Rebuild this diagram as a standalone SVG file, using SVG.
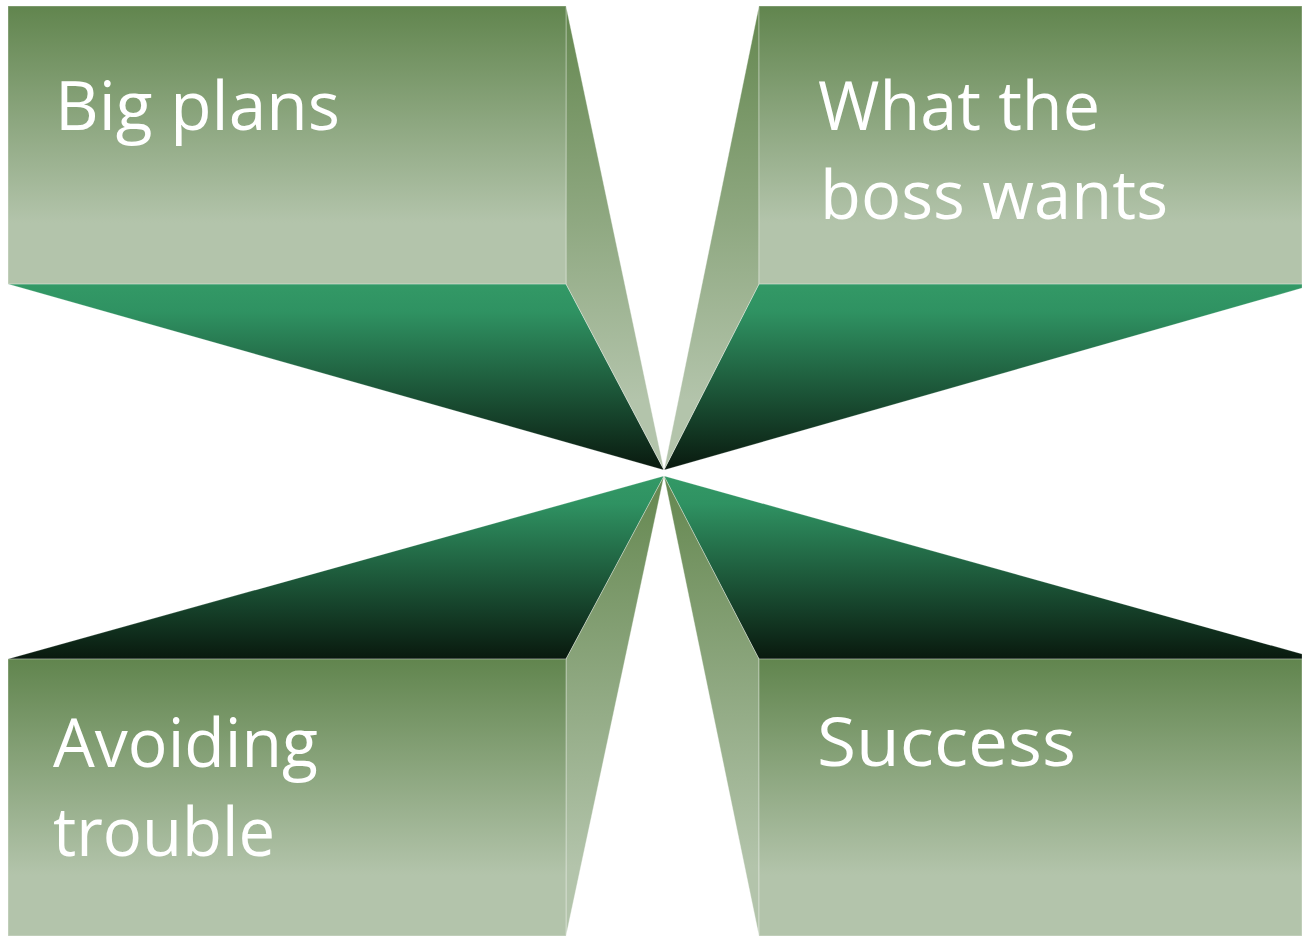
<svg xmlns="http://www.w3.org/2000/svg" width="1302" height="936" viewBox="0 0 1302 936">
<defs>
<linearGradient id="front" x1="0" y1="0" x2="0" y2="1">
<stop offset="0" stop-color="#61854e"/>
<stop offset="0.78" stop-color="#b3c4ab"/>
<stop offset="1" stop-color="#b3c4ab"/>
</linearGradient>
<linearGradient id="side" x1="0" y1="0" x2="0" y2="1">
<stop offset="0" stop-color="#64874f"/>
<stop offset="0.85" stop-color="#b3c4ab"/>
<stop offset="1" stop-color="#b3c4ab"/>
</linearGradient>
<linearGradient id="deep" x1="0" y1="0" x2="0" y2="1">
<stop offset="0" stop-color="#339966"/>
<stop offset="0.15" stop-color="#2f9262"/>
<stop offset="1" stop-color="#09190e"/>
</linearGradient>
<style>
.f{fill:url(#front);stroke:#ffffff;stroke-opacity:0.35;stroke-width:1}
.s{fill:url(#side);stroke:#ffffff;stroke-opacity:0.35;stroke-width:1}
.d{fill:url(#deep);stroke:#ffffff;stroke-opacity:0.25;stroke-width:0.8}
.t{font-family:"Open Sans","Noto Sans","DejaVu Sans",sans-serif;font-size:68px;fill:#ffffff}
</style>
</defs>
<rect width="1302" height="936" fill="#ffffff"/>
<g id="node-big-plans">
<polygon class="d" points="8,284 566,284 664,470"/>
<polygon class="s" points="566,6 664,470 566,284"/>
<rect class="f" x="8" y="6" width="558" height="278"/>
<text class="t" x="55" y="130" textLength="285" lengthAdjust="spacingAndGlyphs">Big plans</text>
</g>
<g id="node-boss-wants">
<polygon class="d" points="759,284 1302,284 1302,288 664,470"/>
<polygon class="s" points="759,6 664,470 759,284"/>
<rect class="f" x="759" y="6" width="543" height="278"/>
<text class="t" x="818" y="130" textLength="282" lengthAdjust="spacingAndGlyphs">What the</text>
<text class="t" x="820" y="219" textLength="348" lengthAdjust="spacingAndGlyphs">boss wants</text>
</g>
<g id="node-avoiding-trouble">
<polygon class="d" points="8,659 664,476 566,659"/>
<polygon class="s" points="566,659 664,476 566,936"/>
<rect class="f" x="8" y="659" width="558" height="277"/>
<text class="t" x="53" y="767" textLength="265" lengthAdjust="spacingAndGlyphs">Avoiding</text>
<text class="t" x="53" y="856" textLength="222" lengthAdjust="spacingAndGlyphs">trouble</text>
</g>
<g id="node-success">
<polygon class="d" points="664,476 1302,654 1302,659 759,659"/>
<polygon class="s" points="664,476 759,659 759,936"/>
<rect class="f" x="759" y="659" width="543" height="277"/>
<text class="t" x="817" y="766" textLength="259" lengthAdjust="spacingAndGlyphs">Success</text>
</g>
<g id="connectors"/>
</svg>
